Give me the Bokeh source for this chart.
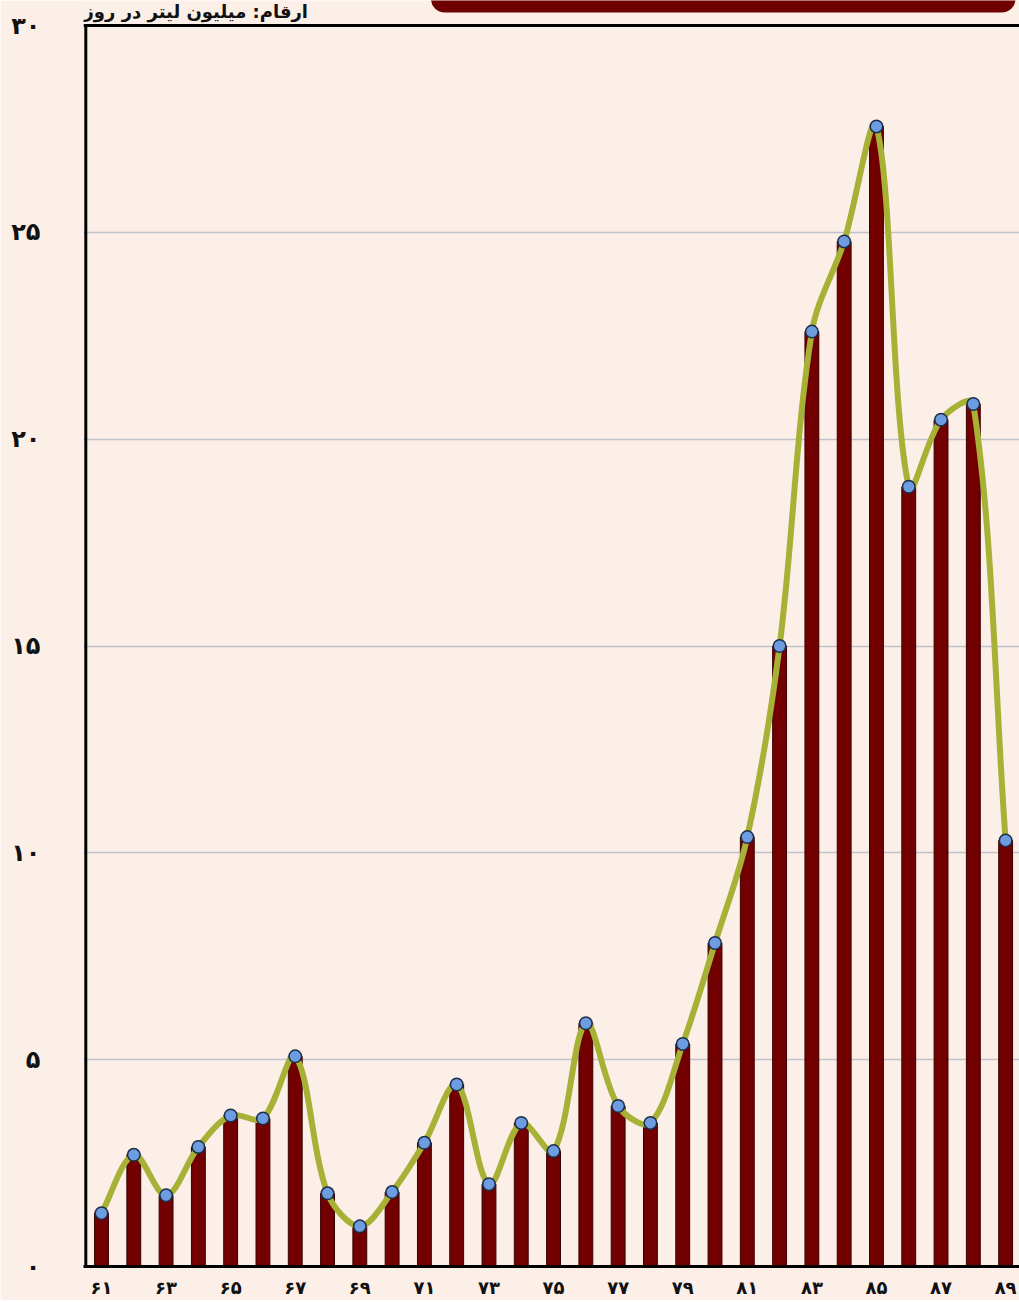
import math
from bokeh.plotting import figure
from bokeh.models import FixedTicker, Span, Label, BoxAnnotation, ColumnDataSource, Range1d
from bokeh.embed import file_html
from bokeh.resources import INLINE

# ---- data ----
years = [61, 62, 63, 64, 65, 66, 67, 68, 69, 70, 71, 72, 73, 74, 75,
         76, 77, 78, 79, 80, 81, 82, 83, 84, 85, 86, 87, 88, 89]
values = [1.29, 2.7, 1.72, 2.89, 3.65, 3.58, 5.08, 1.77, 0.97, 1.8, 2.99, 4.4, 1.99, 3.47, 2.79,
          5.88, 3.88, 3.47, 5.38, 7.82, 10.38, 15.0, 22.6, 24.78, 27.56, 18.85, 20.47, 20.85, 10.3]
x_ticks = [61, 63, 65, 67, 69, 71, 73, 75, 77, 79, 81, 83, 85, 87, 89]
x_tick_labels = ["۶۱", "۶۳", "۶۵", "۶۷", "۶۹", "۷۱", "۷۳", "۷۵", "۷۷", "۷۹",
                 "۸۱", "۸۳", "۸۵", "۸۷", "۸۹"]
y_ticks = [0, 5, 10, 15, 20, 25, 30]
y_tick_labels = ["۰", "۵", "۱۰", "۱۵", "۲۰", "۲۵", "۳۰"]
unit_text = "ارقام: میلیون لیتر در روز"

BG = "#fcefe8"
FONT = "DejaVu Sans"

W, H = 1019, 1300
LEFT, BOTTOM = 83, 34
frame_w = W - LEFT
frame_h = H - BOTTOM
px_x = 32.29                      # pixels per year
px_y = (frame_h - 25) / 30.0      # pixels per unit, 30 sits 25px below the top
x_start = 61 - 18 / px_x
x_end = x_start + frame_w / px_x
y_end = 30 + 25 / px_y

p = figure(width=W, height=H, output_backend="svg", toolbar_location=None,
           x_range=Range1d(x_start, x_end), y_range=Range1d(0, y_end),
           min_border_left=LEFT, min_border_top=0, min_border_bottom=BOTTOM,
           min_border_right=0)
p.background_fill_color = BG
p.border_fill_color = BG
p.outline_line_color = None

# axes
p.xaxis.ticker = FixedTicker(ticks=x_ticks)
p.xaxis.major_label_overrides = {t: l for t, l in zip(x_ticks, x_tick_labels)}
p.yaxis.ticker = FixedTicker(ticks=y_ticks)
p.yaxis.major_label_overrides = {t: l for t, l in zip(y_ticks, y_tick_labels)}
for ax in (p.xaxis[0], p.yaxis[0]):
    ax.major_tick_line_color = None
    ax.minor_tick_line_color = None
    ax.major_label_text_font = FONT
    ax.major_label_text_font_style = "bold"
    ax.major_label_text_color = "#111111"
p.xaxis.axis_line_color = "black"
p.xaxis.axis_line_width = 3
p.yaxis.axis_line_color = None
p.xaxis.major_label_text_font_size = "18px"
p.xaxis.major_label_standoff = 4
p.yaxis.major_label_text_font_size = "24px"
p.yaxis.major_label_standoff = 37

p.xgrid.grid_line_color = None
p.ygrid.ticker = FixedTicker(ticks=[5, 10, 15, 20, 25])
p.ygrid.grid_line_color = "#bfc2ca"
p.ygrid.grid_line_width = 1.5

# frame borders (top and left)
p.add_layout(Span(location=30, dimension="width", line_color="black", line_width=3))
p.segment(x0=[x_start + 2.3 / px_x], y0=[0], x1=[x_start + 2.3 / px_x], y1=[30],
          line_color="black", line_width=3)

# bars
src = ColumnDataSource(dict(x=years, y=values))
p.vbar(x="x", top="y", width=0.43, source=src, fill_color="#730000",
       line_color="#3a0000", line_width=1)

# smoothed line: bezier through the data points, tangents scaled by
# neighbouring segment lengths (in pixel space)
n = len(years)
P = [(years[i] * px_x, values[i] * px_y) for i in range(n)]
def dist(a, b):
    return math.hypot(a[0] - b[0], a[1] - b[1])
ctrl_in, ctrl_out = [], []
for i in range(n):
    a = P[max(i - 1, 0)]
    b = P[i]
    c = P[min(i + 1, n - 1)]
    d = (c[0] - a[0], c[1] - a[1])
    l1, l2 = dist(a, b), dist(b, c)
    s = l1 + l2 if l1 + l2 > 0 else 1
    k = 1 / 3.0
    ctrl_in.append((b[0] - d[0] * k * l1 / s, b[1] - d[1] * k * l1 / s))
    ctrl_out.append((b[0] + d[0] * k * l2 / s, b[1] + d[1] * k * l2 / s))
x0, y0, x1, y1, cx0, cy0, cx1, cy1 = [], [], [], [], [], [], [], []
for i in range(n - 1):
    x0.append(years[i]); y0.append(values[i])
    x1.append(years[i + 1]); y1.append(values[i + 1])
    cx0.append(ctrl_out[i][0] / px_x); cy0.append(ctrl_out[i][1] / px_y)
    cx1.append(ctrl_in[i + 1][0] / px_x); cy1.append(ctrl_in[i + 1][1] / px_y)
p.bezier(x0=x0, y0=y0, x1=x1, y1=y1, cx0=cx0, cy0=cy0, cx1=cx1, cy1=cy1,
         line_color="#a6b135", line_width=6, line_cap="round")

# markers
p.scatter(x="x", y="y", source=src, size=12.5, fill_color="#6d9ce0",
          line_color="#1c2e4a", line_width=1.5)

# unit label and title box at the top
p.add_layout(Label(x=x_start, y=30, x_offset=0, y_offset=4, text=unit_text,
                   text_align="left", text_baseline="bottom",
                   text_font=FONT, text_font_size="18px", text_font_style="bold",
                   text_color="#111111"))
p.add_layout(BoxAnnotation(left=71.2, right=89.31, bottom=30 + 13 / px_y, top=y_end + 1,
                           fill_color="#6e0000", fill_alpha=1.0, line_color=None,
                           border_radius=14))

open("out.html", "w").write(file_html(p, INLINE))
